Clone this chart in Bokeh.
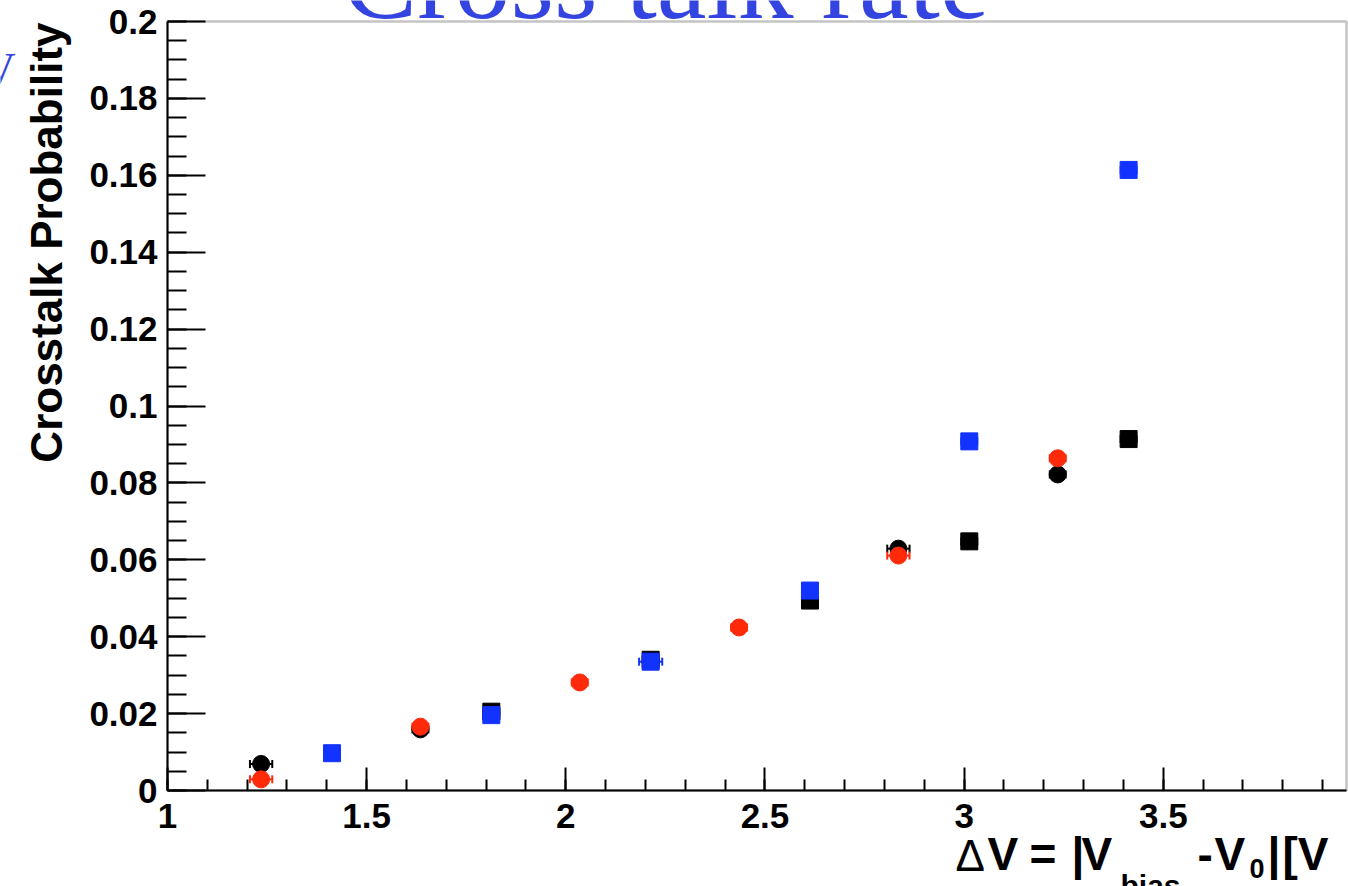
from math import pi

from bokeh.embed import file_html
from bokeh.models import (BoxAnnotation, ColumnDataSource, CustomJSTickFormatter,
                          Label, Range1d, SingleIntervalTicker, TeeHead, Whisker)
from bokeh.plotting import figure
from bokeh.resources import INLINE

# ---- measured crosstalk probabilities -------------------------------------
# circles: one sensor family, squares: the other
black_circle_dv = [1.235, 1.635, 2.835, 3.235]
black_circle_p = [0.0069, 0.0159, 0.0629, 0.0822]
black_circle_err = [0.028, 0.020, 0.028, 0.020]

red_circle_dv = [1.235, 1.635, 2.035, 2.435, 2.835, 3.235]
red_circle_p = [0.0029, 0.0166, 0.0281, 0.0424, 0.0611, 0.0864]
red_circle_err = [0.028, 0.020, 0.020, 0.020, 0.028, 0.020]

black_square_dv = [1.813, 2.213, 2.613, 3.013, 3.413]
black_square_p = [0.0205, 0.0340, 0.0494, 0.0648, 0.0914]
black_square_err = [0.020, 0.020, 0.020, 0.020, 0.020]

blue_square_dv = [1.413, 1.813, 2.213, 2.613, 3.013, 3.413]
blue_square_p = [0.0097, 0.0196, 0.0335, 0.0520, 0.0908, 0.1614]
blue_square_err = [0.020, 0.020, 0.029, 0.020, 0.020, 0.020]

# axis extent of the histogram frame
X0, X1 = 1.0, 3.96
Y0, Y1 = 0.0, 0.2

BLACK = "#000000"
RED = "#FF2A0A"
BLUE = "#1233FF"
TITLE_BLUE = "#3444E0"
SANS = "Liberation Sans"
SERIF = "Liberation Serif"

# canvas and where the frame sits inside it (pixels)
W, H = 1348, 886
FL, FR, FT, FB = 167, 1346, 21, 790
SX = (X1 - X0) / (FR - FL)     # data units per pixel, x
SY = (Y1 - Y0) / (FB - FT)     # data units per pixel, y


def px_x(px):
    return X0 + (px - FL) * SX


def px_y(py):
    return Y0 + (FB - py) * SY


# the plotting area covers the whole canvas; axes are pinned to the frame
p = figure(width=W, height=H,
           x_range=Range1d(px_x(0), px_x(W)), y_range=Range1d(px_y(H), px_y(0)),
           output_backend="svg", toolbar_location=None,
           min_border_left=0, min_border_right=0, min_border_top=0, min_border_bottom=0)
p.xgrid.visible = False
p.ygrid.visible = False
p.background_fill_color = "white"
p.border_fill_color = "white"
p.outline_line_color = None

fmt = CustomJSTickFormatter(code="return (Math.round(tick*1000)/1000).toString();")

for ax in (p.xaxis[0], p.yaxis[0]):
    ax.axis_line_color = BLACK
    ax.axis_line_width = 2
    ax.major_tick_line_color = BLACK
    ax.major_tick_line_width = 2
    ax.minor_tick_line_color = BLACK
    ax.minor_tick_line_width = 2
    ax.major_tick_out = 0
    ax.minor_tick_out = 0
    ax.major_label_text_font = SANS
    ax.major_label_text_font_style = "bold"
    ax.major_label_text_font_size = "35px"
    ax.major_label_text_color = BLACK
    ax.formatter = fmt

xa, ya = p.xaxis[0], p.yaxis[0]
xa.fixed_location = Y0
xa.bounds = (X0, X1)
xa.ticker = SingleIntervalTicker(interval=0.5, num_minor_ticks=5)
xa.major_tick_in = 23
xa.minor_tick_in = 11
xa.major_label_standoff = 13

ya.fixed_location = X0
ya.bounds = (Y0, Y1)
ya.ticker = SingleIntervalTicker(interval=0.02, num_minor_ticks=4)
ya.major_tick_in = 38
ya.minor_tick_in = 19
ya.major_label_standoff = 10

# frame outline (top and right edges)
p.add_layout(BoxAnnotation(left=X0, right=X1, bottom=Y0, top=Y1,
                           fill_alpha=0, line_color="#3a3a3a", line_width=2.5,
                           level="underlay"))


def series(dv, prob, err, color, marker):
    src = ColumnDataSource(dict(
        x=dv, y=prob,
        lo=[a - e for a, e in zip(dv, err)],
        hi=[a + e for a, e in zip(dv, err)],
    ))
    w = Whisker(source=src, base="y", lower="lo", upper="hi", dimension="width",
                line_color=color, line_width=2, level="underlay",
                upper_head=TeeHead(size=8, line_color=color, line_width=2),
                lower_head=TeeHead(size=8, line_color=color, line_width=2))
    p.add_layout(w)
    p.scatter("x", "y", source=src, marker=marker, size=17,
              fill_color=color, line_color=color, line_width=1)


series(black_circle_dv, black_circle_p, black_circle_err, BLACK, "circle")
series(black_square_dv, black_square_p, black_square_err, BLACK, "square")
series(red_circle_dv, red_circle_p, red_circle_err, RED, "circle")
series(blue_square_dv, blue_square_p, blue_square_err, BLUE, "square")

# ---- texts ------------------------------------------------------------------
MID = 0.373   # baseline offset below the label anchor, in font sizes


def text(txt, px, base_py, size, font=SANS, style="bold", color=BLACK, align="left"):
    p.add_layout(Label(x=px_x(px), y=px_y(base_py - MID * size), text=txt,
                       text_font=font, text_font_style=style,
                       text_font_size=f"{size}px", text_color=color,
                       text_align=align, text_baseline="alphabetic"))


p.add_layout(Label(x=px_x(342), y=px_y(41), text="Cross talk rate",
                   text_font=SERIF, text_font_size="112px", text_color=TITLE_BLUE,
                   text_align="left", text_baseline="bottom"))
text("V", 15, 84, 44, font=SERIF, style="normal", color=TITLE_BLUE, align="right")

p.add_layout(Label(x=px_x(62 - MID * 44), y=px_y(22), text="Crosstalk Probability",
                   angle=pi / 2, text_font=SANS, text_font_style="bold",
                   text_font_size="44px", text_color=BLACK,
                   text_align="right", text_baseline="alphabetic"))

# x-axis title, built piece by piece for the subscripts
text("\u0394", 955, 871, 44, style="normal")
text("V", 987, 871, 46)
text("=", 1029, 871, 46)
text("|", 1071, 871, 46)
text("V", 1081, 871, 46)
text("bias", 1120, 896, 30)
text("-", 1197, 871, 46)
text("V", 1214, 871, 46)
text("0", 1249, 878, 27)
text("|", 1267, 871, 46)
text("[V", 1282, 871, 46)

open("out.html", "w").write(file_html(p, INLINE))
